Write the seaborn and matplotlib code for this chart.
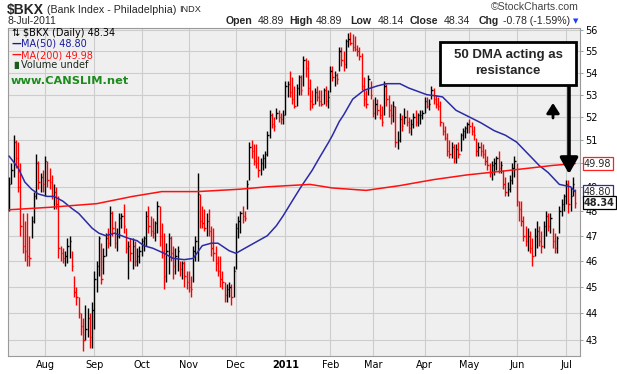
import matplotlib
matplotlib.use("Agg")
import matplotlib.pyplot as plt
from matplotlib.ticker import NullLocator, NullFormatter, FixedLocator, FixedFormatter
import matplotlib.transforms as mtrans
import numpy as np
import pandas as pd
import seaborn as sns

# daily bars, 9-Jul-2010 .. 8-Jul-2011
highs = [
    49.4, 50.0, 51.2, 51.0, 50.9, 50.0, 47.9, 47.6, 47.9, 47.0, 47.8, 48.8, 50.4, 50.1, 49.6, 49.7,
    50.3, 50.1, 49.8, 49.5, 49.1, 49.0, 48.6, 46.6, 46.5, 46.4, 46.9, 47.0, 46.4, 45.4, 45.0, 44.6, 44.0, 43.8, 44.3, 44.2, 44.0, 44.4,
    45.6, 46.0, 47.0, 46.7, 46.5, 47.1, 47.3, 48.2, 48.0, 47.6, 47.3, 47.9, 47.9, 48.3, 47.3, 46.8, 46.9, 46.9, 46.8, 46.5, 46.6,
    46.9, 47.0, 48.0, 48.2, 47.8, 47.7, 47.6, 48.4, 48.2, 47.5, 47.1, 46.7, 47.1, 47.0, 46.6, 46.5, 46.6, 46.0, 46.0, 46.0, 45.6,
    45.6, 45.4, 46.6, 47.0, 49.6, 48.7, 48.2, 48.1, 47.9, 48.1, 47.4, 47.3, 46.6, 46.2, 46.2, 45.6, 45.2, 45.1, 45.2, 45.1, 45.8,
    47.5, 47.8, 48.0, 48.2, 48.0, 49.3, 50.9, 51.0, 50.8, 50.8, 50.3, 50.2, 50.4, 50.5, 51.4, 52.3, 52.2, 52.0, 52.4, 52.3, 52.2, 52.3,
    53.6, 53.6, 54.1, 53.8, 53.4, 53.5, 53.9, 53.9, 54.8, 54.7, 54.6, 53.7, 53.2, 53.3, 53.4, 53.2, 53.2, 53.3, 53.4, 53.2,
    54.3, 54.3, 54.1, 54.0, 55.2, 55.2, 55.0, 55.6, 55.85, 55.9, 55.8, 55.7, 55.3, 55.2, 54.9, 53.8, 53.2, 53.9, 53.6,
    52.8, 52.9, 52.8, 52.6, 52.5, 53.6, 53.5, 53.0, 52.6, 52.7, 52.5, 51.4, 52.2, 52.1, 52.4, 52.3, 52.0, 51.9, 52.2, 52.3, 52.2, 52.3, 52.3,
    52.9, 52.9, 52.8, 53.4, 53.3, 53.0, 52.9, 52.7, 51.8, 51.6, 51.3, 51.0, 50.9, 50.8, 50.8, 50.9, 51.3, 51.5, 51.6, 51.8,
    51.9, 51.8, 51.6, 51.1, 50.9, 50.9, 50.8, 50.6, 50.3, 50.0, 50.1, 50.2, 50.3, 50.5, 50.1, 49.7, 49.4, 49.2, 49.5, 50.0, 50.3,
    50.0, 48.4, 48.4, 47.8, 47.4, 47.3, 47.2, 46.9, 47.3, 47.6, 47.4, 47.2, 47.6, 48.0, 47.9, 47.9, 47.3, 47.1, 47.0, 48.2, 48.5, 48.7,
    49.3, 49.3, 49.0, 49.4, 48.89,
]
lows = [
    48.0, 49.1, 49.4, 49.8, 48.8, 47.0, 46.3, 46.0, 45.8, 45.8, 46.9, 47.5, 48.5, 48.9, 48.8, 48.8,
    48.6, 49.0, 48.9, 48.5, 48.1, 48.1, 46.1, 46.0, 45.9, 45.8, 45.9, 46.1, 45.6, 44.6, 44.3, 43.8, 43.2, 42.6, 43.0, 43.1, 42.7, 42.7,
    43.4, 44.8, 45.4, 45.1, 45.5, 46.2, 46.5, 46.6, 47.0, 46.5, 46.4, 46.9, 47.3, 47.1, 46.3, 45.3, 46.0, 45.7, 45.8, 45.8, 45.9,
    46.2, 46.4, 46.6, 47.1, 47.0, 46.9, 46.8, 47.1, 46.6, 46.1, 44.9, 45.2, 45.5, 46.0, 45.3, 45.5, 45.6, 45.4, 45.3, 45.0, 44.9,
    44.8, 44.6, 45.2, 46.0, 46.0, 47.3, 47.3, 47.2, 47.0, 47.0, 46.2, 46.0, 45.6, 45.4, 45.0, 44.9, 44.4, 44.4, 44.6, 44.3, 44.6,
    45.7, 46.9, 47.1, 47.5, 47.6, 48.1, 49.3, 50.2, 49.9, 49.8, 49.4, 49.5, 49.7, 49.8, 50.3, 51.1, 51.5, 51.4, 51.9, 51.8, 51.7, 51.7,
    52.1, 52.9, 52.9, 52.6, 52.4, 52.5, 53.0, 53.0, 53.4, 53.8, 53.0, 52.3, 52.4, 52.6, 52.7, 52.5, 52.5, 52.6, 52.5, 52.4,
    53.1, 53.6, 53.4, 53.5, 54.1, 54.3, 54.1, 54.2, 55.2, 55.3, 55.0, 55.0, 54.8, 54.6, 53.2, 52.5, 52.4, 53.0, 52.8,
    52.0, 51.9, 52.1, 51.9, 51.6, 52.1, 52.5, 52.0, 51.7, 51.8, 50.7, 50.6, 50.9, 51.4, 51.7, 51.6, 51.3, 51.2, 51.5, 51.6, 51.6, 51.7, 51.9,
    52.2, 52.4, 52.3, 52.8, 52.6, 52.4, 52.3, 51.6, 51.2, 51.0, 50.3, 50.2, 50.2, 50.0, 50.0, 50.2, 50.5, 51.0, 51.1, 51.3,
    51.3, 51.2, 51.0, 50.3, 50.3, 50.3, 50.2, 49.9, 49.7, 49.4, 49.3, 49.5, 49.7, 49.6, 49.6, 48.9, 48.6, 48.6, 48.8, 49.1, 49.4,
    48.2, 47.6, 47.4, 46.8, 46.6, 46.4, 46.3, 45.8, 46.2, 46.5, 46.6, 46.3, 46.5, 47.0, 47.2, 47.1, 46.5, 46.3, 46.3, 47.1, 47.8, 48.0,
    48.3, 47.9, 48.0, 48.6, 48.14,
]
closes = [
    49.1, 49.7, 50.9, 50.2, 49.0, 47.4, 46.6, 46.4, 46.2, 46.1, 47.6, 48.6, 50.0, 49.2, 49.4, 49.1,
    50.1, 49.3, 49.2, 48.6, 48.8, 48.3, 46.5, 46.3, 46.1, 46.2, 46.6, 46.8, 45.8, 44.8, 44.6, 44.0, 43.5, 43.0, 43.4, 43.8, 43.1, 44.1,
    45.3, 45.8, 46.9, 45.3, 46.2, 46.9, 46.7, 47.9, 47.3, 46.7, 47.0, 47.7, 47.8, 47.4, 46.5, 46.6, 46.3, 46.6, 46.0, 46.2, 46.4,
    46.8, 46.9, 47.8, 47.4, 47.2, 47.1, 47.5, 48.2, 47.0, 46.4, 45.4, 46.4, 46.9, 46.3, 45.8, 46.2, 46.4, 45.7, 45.9, 45.4, 45.2,
    45.0, 44.9, 46.4, 46.8, 48.7, 47.6, 47.5, 47.3, 47.6, 47.2, 46.5, 46.3, 45.9, 45.6, 45.3, 45.2, 44.7, 44.9, 45.0, 44.6, 45.6,
    47.3, 47.6, 47.9, 47.8, 47.7, 49.1, 50.7, 50.5, 50.1, 50.0, 49.7, 50.0, 50.2, 50.4, 51.2, 52.1, 51.7, 51.6, 52.2, 52.0, 51.9, 52.1,
    53.4, 53.5, 53.1, 52.8, 52.5, 53.3, 53.8, 53.2, 54.6, 54.2, 53.3, 52.7, 52.6, 53.1, 52.9, 52.7, 52.6, 53.2, 52.7, 52.9,
    54.1, 53.8, 53.9, 53.7, 55.0, 54.6, 54.4, 55.5, 55.6, 55.4, 55.2, 55.1, 55.0, 54.8, 53.4, 52.8, 52.6, 53.7, 53.0,
    52.2, 52.6, 52.3, 52.1, 51.8, 53.4, 52.8, 52.3, 52.1, 52.5, 50.9, 51.0, 51.9, 51.6, 52.0, 51.8, 51.5, 51.7, 52.0, 51.8, 52.1, 52.1, 52.2,
    52.7, 52.5, 52.6, 53.2, 52.8, 52.6, 52.5, 51.8, 51.4, 51.1, 50.5, 50.4, 50.7, 50.2, 50.6, 50.4, 51.2, 51.4, 51.5, 51.7,
    51.6, 51.4, 51.2, 50.5, 50.7, 50.5, 50.4, 50.1, 49.9, 49.6, 49.9, 50.0, 50.2, 49.8, 49.9, 49.1, 48.8, 48.9, 49.3, 49.8, 50.1,
    48.4, 48.1, 47.6, 47.0, 46.8, 47.0, 46.5, 46.2, 47.0, 47.2, 46.8, 46.6, 47.4, 47.8, 47.4, 47.7, 46.8, 46.5, 46.9, 48.0, 48.3, 48.6,
    49.1, 48.3, 48.6, 49.12, 48.34,
]

# moving averages read at bar positions along the curves
ma50_pos = [0, 4, 7, 10, 13, 17, 20, 24, 28, 31, 34, 37, 40, 43, 47, 50, 53, 57, 60, 64,
            69, 73, 78, 82, 86, 90, 93, 98, 101, 105, 109, 115, 119, 122, 126, 130, 135, 138, 142, 144,
            147, 149, 153, 158, 164, 168, 174, 178, 182, 186, 190, 193, 199, 205, 210, 216, 221, 226, 233, 236,
            240, 245, 250, 252]
ma50_vals = [50.3, 49.8, 49.2, 48.9, 48.7, 48.6, 48.6, 48.4, 48.1, 47.9, 47.6, 47.3, 47.1, 47.0, 47.1, 47.0, 46.9, 46.8, 46.6, 46.5,
             46.3, 46.1, 46.05, 46.1, 46.6, 46.7, 46.7, 46.4, 46.3, 46.5, 46.7, 47.0, 47.4, 47.8, 48.4, 49.0, 49.7, 50.2, 50.85, 51.2,
             51.8, 52.1, 52.8, 53.2, 53.4, 53.5, 53.5, 53.3, 53.15, 53.0, 52.95, 52.9, 52.3, 52.0, 51.75, 51.4, 51.2, 50.9, 50.2, 49.9,
             49.6, 49.1, 49.0, 48.80]
ma200_pos = [0, 18, 39, 55, 68, 84, 103, 115, 134, 144, 159, 174, 189, 204, 219, 233, 242, 252]
ma200_vals = [48.05, 48.15, 48.3, 48.6, 48.8, 48.8, 48.9, 49.0, 49.1, 48.95, 48.85, 49.05, 49.3, 49.5, 49.65, 49.8, 49.9, 49.98]

month_pos = [16, 38, 59, 80, 101, 123, 143, 162, 185, 205, 226, 248]
month_labels = ["Aug", "Sep", "Oct", "Nov", "Dec", "2011", "Feb", "Mar", "Apr", "May", "Jun", "Jul"]
price_ticks = list(range(43, 57))

W, H = 617, 374

sns.set_theme(style="white")
plt.rcParams["font.family"] = ["DejaVu Sans"]

fig = plt.figure(figsize=(W / 100, H / 100), dpi=100)
ax = fig.add_axes([8 / W, 18 / H, 572 / W, 328 / H])
ax.set_facecolor("#efefef")


def fx(x):
    return x / W


def fy(y):
    return 1 - y / H


df = pd.DataFrame({"high": highs, "low": lows, "close": closes})
df["x"] = np.arange(len(df))
up = df["close"].diff().fillna(0) >= 0
colors = np.where(up, "black", "#ff0000")

ax.vlines(df["x"], df["low"], df["high"], colors=colors, lw=1.0, zorder=3)
ax.hlines(df["close"], df["x"], df["x"] + 0.6, colors=colors, lw=1.0, zorder=3)

sns.lineplot(x=ma50_pos, y=ma50_vals, ax=ax, color="#2b2ba6", lw=1.1, zorder=4)
sns.lineplot(x=ma200_pos, y=ma200_vals, ax=ax, color="#ff1010", lw=1.1, zorder=4)

ax.set_yscale("log")
ax.set_ylim(42.42, 56.1)
ax.set_xlim(-0.48, 254.2)
ax.yaxis.set_major_locator(FixedLocator(price_ticks))
ax.yaxis.set_major_formatter(FixedFormatter([str(t) for t in price_ticks]))
ax.yaxis.set_minor_locator(NullLocator())
ax.yaxis.set_minor_formatter(NullFormatter())
ax.yaxis.tick_right()
ax.set_xticks(month_pos)
ax.set_xticklabels(month_labels)
ax.get_xticklabels()[5].set_fontweight("bold")
ax.set_xlabel("")
ax.set_ylabel("")

ax.grid(True, color="#cdcdcd", lw=0.8)
ax.set_axisbelow(True)
for s in ax.spines.values():
    s.set_color("#9a9a9a")
    s.set_linewidth(0.8)
ax.tick_params(axis="x", length=0, pad=3, labelsize=7, colors="black")
ax.tick_params(axis="y", length=2.5, width=0.6, pad=1.5, labelsize=7, color="#7a9a9a", labelcolor="black")

# price tags on the right edge
tr = mtrans.blended_transform_factory(ax.transAxes, ax.transData)
ax.text(1.007, 49.98, "49.98", transform=tr, va="center", ha="left", fontsize=7, zorder=6,
        bbox=dict(boxstyle="square,pad=0.15", fc="white", ec="#ff2020", lw=0.9))
ax.text(1.007, 48.80, "48.80", transform=tr, va="center", ha="left", fontsize=7, zorder=6,
        bbox=dict(boxstyle="square,pad=0.15", fc="white", ec="#2b2ba6", lw=0.9))
ax.text(1.007, 48.34, "48.34", transform=tr, va="center", ha="left", fontsize=7, fontweight="bold", zorder=7,
        bbox=dict(boxstyle="square,pad=0.15", fc="white", ec="black", lw=0.9))

# header
hdr = ["Liberation Sans", "DejaVu Sans"]
fig.text(fx(7), fy(10), "$BKX", fontsize=10, fontweight="bold", family=hdr, va="center")
fig.text(fx(47), fy(10), "(Bank Index - Philadelphia)", fontsize=7.7, family=hdr, va="center")
fig.text(fx(179), fy(10), "INDX", fontsize=6.6, family=hdr, va="center")
fig.text(fx(579), fy(7), "\u00a9StockCharts.com", fontsize=7.6, family=hdr, va="center", ha="right", color="#444444")
fig.text(fx(8), fy(21), "8-Jul-2011", fontsize=7.5, family=hdr, va="center")
quote = [("Open", True, 226), ("48.89", False, 258), ("High", True, 289), ("48.89", False, 316),
         ("Low", True, 350), ("48.14", False, 378), ("Close", True, 410), ("48.34", False, 444),
         ("Chg", True, 479), ("-0.78 (-1.59%)", False, 503)]
for txt, bold, xp in quote:
    fig.text(fx(xp), fy(21), txt, fontsize=7.6, family=hdr, va="center",
             fontweight="bold" if bold else "normal")
fig.text(fx(576), fy(21), "\u25bc", fontsize=5, color="#1e3cff", va="center", ha="center")

# in-chart legend
fig.text(fx(11), fy(33), "\u21c5", fontsize=7, va="center", color="black")
fig.text(fx(23), fy(33), "$BKX (Daily) 48.34", fontsize=7, va="center", color="black")
fig.text(fx(11), fy(44), "\u2014", fontsize=7, fontweight="bold", va="center", color="#1a1aa0")
fig.text(fx(21), fy(44), "MA(50) 48.80", fontsize=7, va="center", color="#1a1aa0")
fig.text(fx(11), fy(55), "\u2014", fontsize=7, fontweight="bold", va="center", color="#ff1010")
fig.text(fx(21), fy(55), "MA(200) 49.98", fontsize=7, va="center", color="#ff1010")
fig.text(fx(11), fy(65), "\u2590\u258c", fontsize=5, va="center", color="#1d5a1d")
fig.text(fx(21), fy(65), "Volume undef", fontsize=7, va="center", color="#1b2a1b")
fig.text(fx(11), fy(81), "www.CANSLIM.net", fontsize=8.2, fontweight="bold", va="center", color="#1e8b1e")

# annotation box and arrows
fig.add_artist(plt.Rectangle((fx(440), fy(85)), 136 / W, 43 / H, transform=fig.transFigure,
                             fc="white", ec="black", lw=2, zorder=5))
fig.text(fx(508), fy(63), "50 DMA acting as\nresistance", ha="center", va="center", fontsize=9.5,
         fontweight="bold", family=hdr, linespacing=1.35, zorder=6)
ax.annotate("", xy=(569, H - 174), xytext=(569, H - 85), xycoords="figure pixels", textcoords="figure pixels",
            arrowprops=dict(arrowstyle="-|>,head_width=0.45,head_length=0.8", lw=2.6, color="black",
                            shrinkA=0, shrinkB=0), zorder=6)
ax.annotate("", xy=(553, H - 103), xytext=(553, H - 118), xycoords="figure pixels", textcoords="figure pixels",
            arrowprops=dict(arrowstyle="-|>,head_width=0.32,head_length=0.5", lw=2.0, color="black",
                            shrinkA=0, shrinkB=0), zorder=6)

fig.savefig("out.png", dpi=100, facecolor="white")
